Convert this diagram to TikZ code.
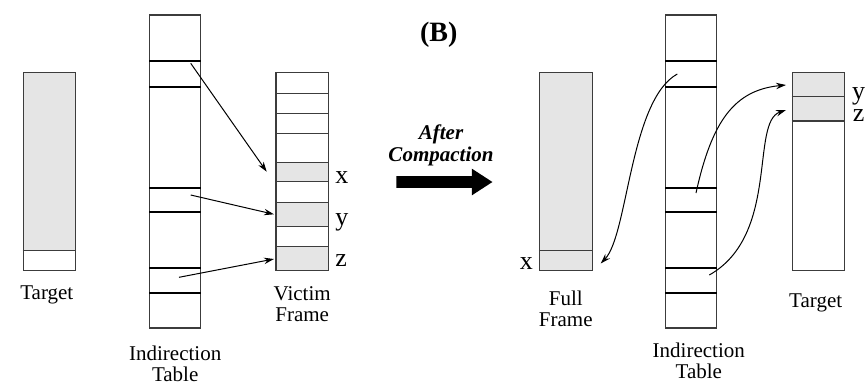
\documentclass[tikz,border=0pt]{standalone}
\usepackage{fontspec}
\setmainfont{Liberation Serif}
\usepackage{tikz}
\usetikzlibrary{arrows,arrows.meta,shapes,shapes.arrows,positioning}
\definecolor{cellgray}{RGB}{229,229,229}
\definecolor{boxline}{RGB}{60,60,60}
\tikzstyle{frame} = [rectangle, draw=boxline, line width=0.6pt, minimum width=26.3pt, minimum height=99.2pt, inner sep=0pt]
\tikzstyle{itable} = [frame, minimum width=25.5pt, minimum height=156.5pt]
\tikzstyle{slotline} = [draw=boxline, line width=0.6pt]
\tikzstyle{rowline} = [draw=black, line width=1pt]
\tikzstyle{caption} = [align=center, inner sep=0pt, font=\fontsize{10.5}{10.5}\selectfont]
\tikzstyle{slot} = [inner sep=0pt, font=\fontsize{13}{13}\selectfont]
\tikzstyle{ptr} = [line width=0.5pt, -{Stealth[length=5pt,width=3.2pt]}]
\tikzstyle{bigarrow} = [single arrow, fill=black, inner sep=2.75pt, minimum height=48pt, single arrow head extend=3.75pt, single arrow tip angle=66]

\begin{document}
\begin{tikzpicture}[x=0.5pt,y=-0.5pt]
\useasboundingbox (0,0) rectangle (867,391);

% before compaction
\fill[cellgray] (23,72.3) rectangle (75.7,250.7);
\fill[cellgray] (276,162.3) rectangle (328.3,181.7);
\fill[cellgray] (276,202.7) rectangle (328.3,226.7);
\fill[cellgray] (276,246.7) rectangle (328.3,270.7);
\node[frame] (ltgt) at (49.4,171.5) {};
\node[itable] (ltab) at (175.2,171.5) {};
\node[frame] (victim) at (302.2,171.5) {};
\draw[slotline] (ltgt.west |- 0,250.7) -- (ltgt.east |- 0,250.7);
\foreach \y in {60.7,86.7,188,211.7,268,292.7}
  \draw[rowline] (ltab.west |- 0,\y) -- (ltab.east |- 0,\y);
\foreach \y in {93.7,113.7,133.7,162.3,181.7,202.7,226.7,246.7}
  \draw[slotline] (victim.west |- 0,\y) -- (victim.east |- 0,\y);

\node[caption, below=7.2pt of ltgt, xshift=-1.3pt] (ltgtcap) {Target};
\node[caption, below=8.5pt of ltab] (ltabcap) {Indirection\\Table};
\node[caption, below=7.6pt of victim] (victimcap) {Victim\\Frame};
\node[slot, anchor=base west] (lx) at (335,183.3) {x};
\node[slot, anchor=base west] (ly) at (335,225) {y};
\node[slot, anchor=base west] (lz) at (335,266.7) {z};

\coordinate (lpx) at (190.7,63.3);
\coordinate (lpy) at (190.7,195);
\coordinate (lpz) at (179,277.3);
\coordinate (lvx) at (266.7,171.7);
\coordinate (lvy) at (274,214.3);
\coordinate (lvz) at (274,259);
\draw[ptr] (lpx) -- (lvx);
\draw[ptr] (lpy) -- (lvy);
\draw[ptr] (lpz) -- (lvz);

% the step
\node[font=\bfseries\fontsize{14}{14}\selectfont, anchor=base, inner sep=0pt] (title) at (438.7,41.7) {(B)};
\node[font=\bfseries\itshape\fontsize{10.5}{10.7}\selectfont, align=center, anchor=north, inner sep=0pt] (step) at (441,124.5) {After\\Compaction};
\node[bigarrow, anchor=tail] (go) at (396,182) {};

% after compaction
\fill[cellgray] (539.3,72.3) rectangle (592.3,270.7);
\fill[cellgray] (792.5,72.3) rectangle (844.5,121);
\node[frame] (fframe) at (565.8,171.5) {};
\node[itable] (rtab) at (691.2,171.5) {};
\node[frame] (rtgt) at (818.5,171.5) {};
\draw[slotline] (fframe.west |- 0,250.7) -- (fframe.east |- 0,250.7);
\foreach \y in {60.7,86.7,188,211.7,268,292.7}
  \draw[rowline] (rtab.west |- 0,\y) -- (rtab.east |- 0,\y);
\foreach \y in {96.7,121}
  \draw[slotline] (rtgt.west |- 0,\y) -- (rtgt.east |- 0,\y);

\node[caption, below=9.7pt of fframe] (fframecap) {Full\\Frame};
\node[caption, below=6.8pt of rtab, xshift=3.8pt] (rtabcap) {Indirection\\Table};
\node[caption, below=11.2pt of rtgt, xshift=-1.4pt] (rtgtcap) {Target};
\node[slot, anchor=base east] (rx) at (533.3,269.3) {x};
\node[slot, anchor=base west] (ry) at (851.7,99.5) {y};
\node[slot, anchor=base west] (rz) at (852.5,121) {z};

\coordinate (rpx) at (677.3,74);
\coordinate (rpy) at (696,193);
\coordinate (rpz) at (709.3,275);
\coordinate (fx) at (600.7,263.5);
\coordinate (ty) at (786,85);
\coordinate (tz) at (786,110);
\draw[ptr] (rpx) .. controls (630,100) and (628,235) .. (fx);
\draw[ptr] (rpy) .. controls (712,120) and (735,90) .. (ty);
\draw[ptr] (rpz) .. controls (780,235) and (750,122) .. (tz);
\end{tikzpicture}
\end{document}
